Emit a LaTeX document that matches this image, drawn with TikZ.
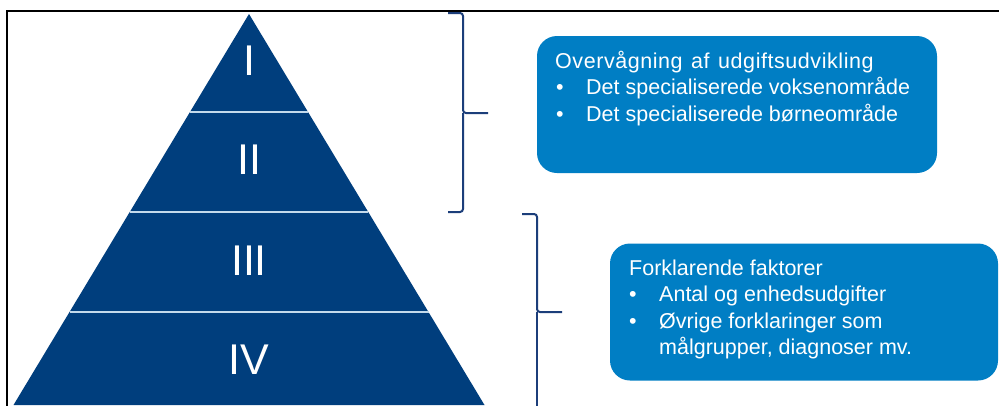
\documentclass[tikz,border=0pt]{standalone}
\usepackage{fontspec}
\setmainfont{Liberation Sans}
\definecolor{navy}{RGB}{0,62,125}
\definecolor{boxblue}{RGB}{0,126,196}
\definecolor{bracecol}{RGB}{28,62,122}
\definecolor{sepcol}{RGB}{195,218,236}
\begin{document}
\begin{tikzpicture}[x=1pt,y=-1pt,
  numeral/.style={text=white,inner sep=0pt,font=\fontsize{43}{43}\selectfont},
  infobox/.style={fill=boxblue,rounded corners=20pt,inner sep=0pt},
  boxtext/.style={text=white,inner sep=0pt,anchor=base west,font=\fontsize{21.5}{26}\selectfont},
  bullettext/.style={text=white,inner sep=0pt,anchor=base,font=\fontsize{21.5}{26}\selectfont},
  brace/.style={draw=bracecol,line width=2pt,rounded corners=3pt},
  sepline/.style={draw=sepcol,line width=2pt}]
\useasboundingbox (0,0) rectangle (999,405);
\fill[white] (0,0) rectangle (999,405);
% frame
\draw[black,line width=2pt] (7,406) -- (7,10.5) -- (1000,10.5);
% pyramid
\fill[navy] (249,14) -- (484.5,405) -- (13.5,405) -- cycle;
\draw[sepline] (190,112) -- (308,112);
\draw[sepline] (129.7,212) -- (368.3,212);
\draw[sepline] (69.5,312) -- (428.5,312);
\node[numeral] (n1) at (249,60.5) {I};
\node[numeral] (n2) at (249,160) {II};
\node[numeral] (n3) at (249,260.5) {III};
\node[numeral] (n4) at (249,359.5) {IV};
% braces
\coordinate (b1top) at (448,13);
\coordinate (b1mid) at (463,113);
\coordinate (b1tip) at (488,113);
\coordinate (b1bot) at (448,212);
\draw[brace] (b1top) -- (463,13) -- (b1mid) -- (b1tip);
\draw[brace] (b1mid) -- (463,212) -- (b1bot);
\coordinate (b2top) at (522,214);
\coordinate (b2mid) at (537,312);
\coordinate (b2tip) at (562,312);
\coordinate (b2bot) at (537,407);
\draw[brace] (b2top) -- (537,214) -- (b2mid) -- (b2tip);
\draw[brace] (b2mid) -- (b2bot);
% boxes
\node[infobox,minimum width=400pt,minimum height=137pt] (box1) at (737,104.5) {};
\node[infobox,minimum width=388pt,minimum height=137pt] (box2) at (804,312) {};
% box 1 text
\node[boxtext] (t1a) at (555,68) {\addfontfeature{LetterSpace=2.6}Overvågning\hspace{2pt} af\hspace{2pt} udgiftsudvikling};
\node[bullettext] (t1bb) at (560,94.5) {•};
\node[boxtext] (t1b) at (586,94.5) {Det specialiserede voksenområde};
\node[bullettext] (t1cb) at (560,121) {•};
\node[boxtext] (t1c) at (586,121) {Det specialiserede børneområde};
% box 2 text
\node[boxtext] (t2a) at (629,275) {Forklarende faktorer};
\node[bullettext] (t2bb) at (633,301.5) {•};
\node[boxtext] (t2b) at (659,301.5) {Antal og enhedsudgifter};
\node[bullettext] (t2cb) at (633,328) {•};
\node[boxtext] (t2c) at (659,328) {Øvrige forklaringer som};
\node[boxtext] (t2d) at (659,354.5) {målgrupper, diagnoser mv.};
\end{tikzpicture}
\end{document}
